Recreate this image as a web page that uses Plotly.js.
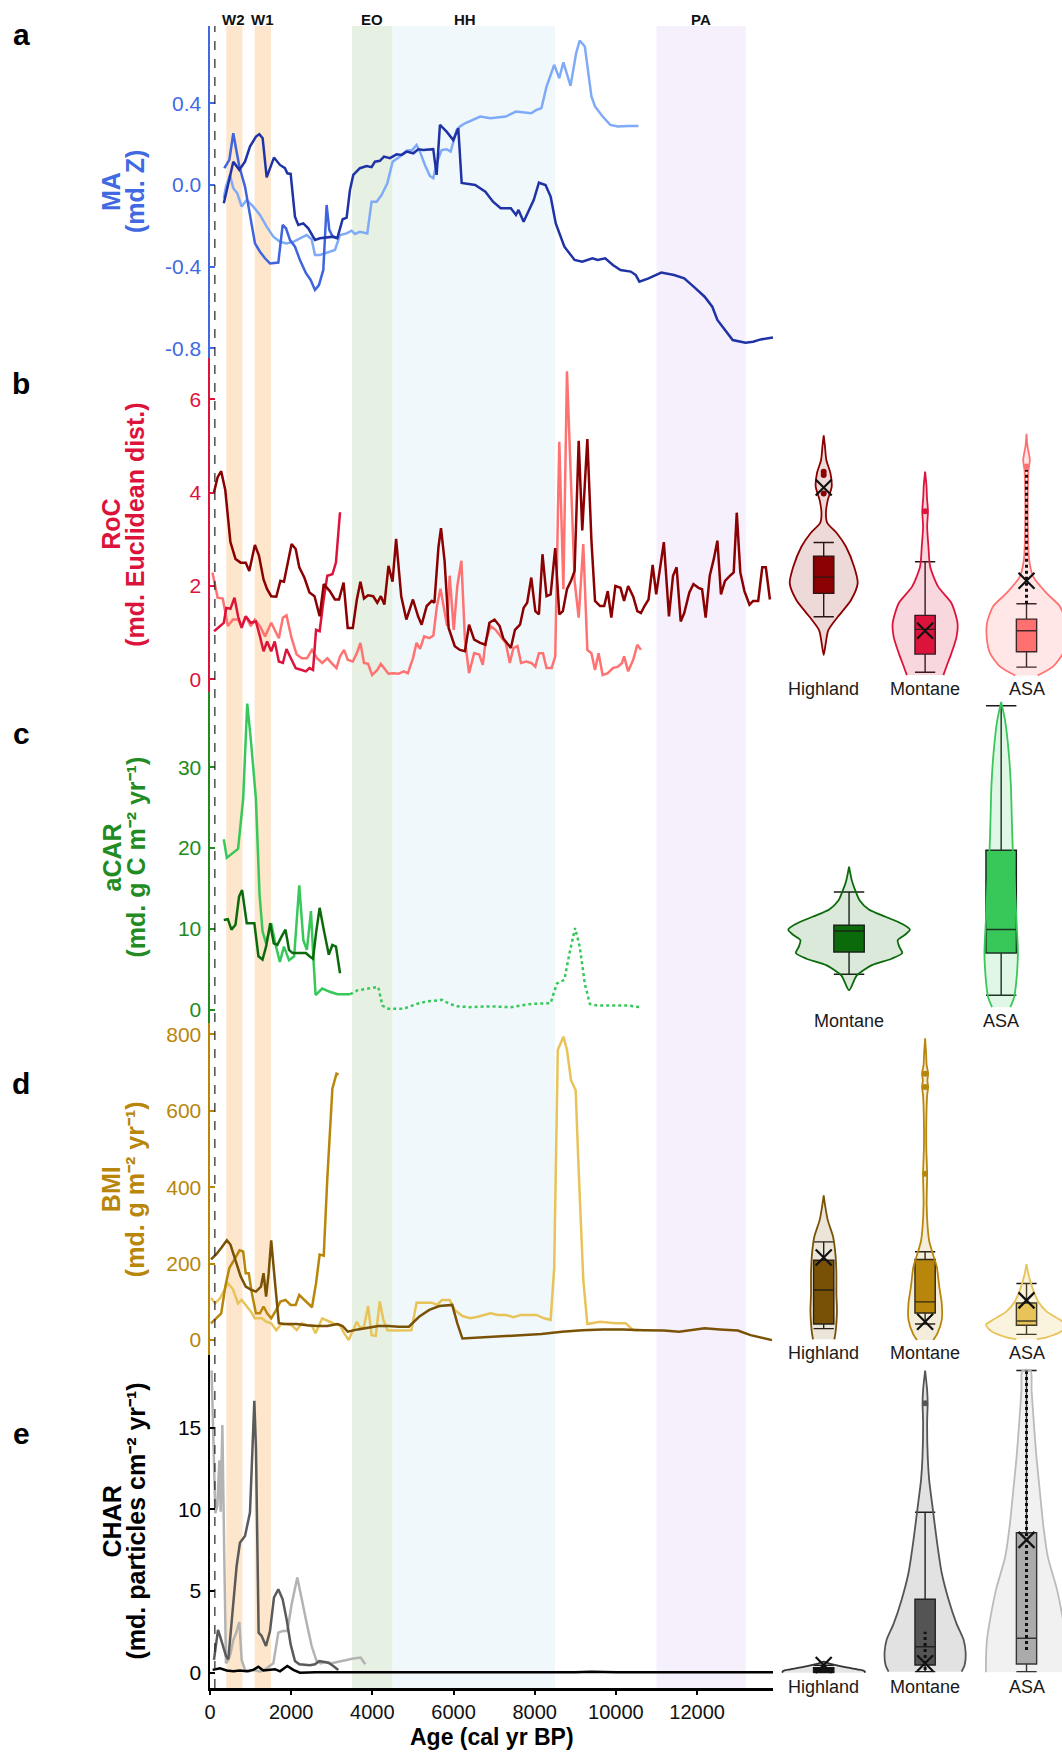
<!DOCTYPE html>
<html>
<head>
<meta charset="utf-8">
<script src="https://cdn.plot.ly/plotly-3.0.1.min.js"></script>
<style>
  html, body { margin: 0; padding: 0; background: #ffffff; }
  #chart { width: 1062px; height: 1756px; }
</style>
</head>
<body>
<div id="chart"></div>
<script>
// ---------------- time-series data (age in cal yr BP) ----------------
// a) MA
const maHighlandAge = [340,574,722,862,985,1133,1215,1297,1396,1576,1724,1847,1905,1987,2093,2175,2298,2421,2586,2709,3038,3136,3268,3366,3448,3530,3694,3858,3981,4064,4187,4285,4433,4597,4720,4844,5008,5131,5254,5500,5583,5665,5829,5993,6117,6200,6533,6784,6972,7161,7412,7538,7600,7726,7977,8103,8266,8392,8518,8731,8982,9171,9422,9548,9736,9925,10113,10364,10490,10578,10804,11118,11432,11683,11935,12186,12374,12500,12688,12877,13191,13380,13568,13870];
const maHighlandVal = [-0.09,0.114,0.074,0.114,0.188,0.237,0.248,0.229,0.037,0.134,0.098,0.082,0.057,0.054,-0.155,-0.196,-0.188,-0.212,-0.269,-0.261,-0.253,-0.261,-0.168,-0.16,-0.025,0.049,0.082,0.093,0.087,0.114,0.118,0.139,0.131,0.15,0.147,0.163,0.155,0.175,0.171,0.175,0.049,0.294,0.261,0.22,0.277,0.01,0.0,-0.033,-0.082,-0.114,-0.114,-0.147,-0.122,-0.18,-0.073,0.011,0.0,-0.057,-0.188,-0.302,-0.367,-0.376,-0.359,-0.367,-0.359,-0.392,-0.416,-0.424,-0.441,-0.473,-0.457,-0.429,-0.441,-0.457,-0.501,-0.547,-0.596,-0.661,-0.71,-0.759,-0.772,-0.767,-0.756,-0.746];
const maMontaneAge = [340,369,476,574,640,722,862,985,1108,1231,1355,1478,1683,1790,1872,1970,2093,2216,2364,2479,2586,2684,2791,2873,2939,3021,3119];
const maMontaneVal = [0.09,0.087,0.123,0.253,0.18,0.09,-0.008,-0.155,-0.286,-0.327,-0.359,-0.384,-0.38,-0.196,-0.212,-0.269,-0.302,-0.367,-0.432,-0.465,-0.514,-0.49,-0.416,-0.098,-0.22,-0.253,-0.261];
const maAsaAge = [340,394,492,574,673,780,903,1067,1231,1396,1560,1724,1888,2052,2216,2380,2504,2586,2709,2873,3079,3202,3366,3489,3571,3694,3875,3981,4105,4228,4368,4499,4679,4844,4983,5090,5172,5295,5418,5500,5583,5706,5829,5928,6076,6158,6281,6658,6910,7286,7538,7915,8040,8166,8291,8480,8605,8706,8882,9020,9108,9234,9397,9485,9673,9862,10050,10302,10553];
const maAsaVal = [-0.065,-0.008,0.049,-0.016,-0.041,-0.106,-0.074,-0.106,-0.147,-0.204,-0.253,-0.278,-0.286,-0.278,-0.261,-0.245,-0.266,-0.343,-0.343,-0.331,-0.318,-0.245,-0.237,-0.224,-0.24,-0.229,-0.237,-0.082,-0.082,-0.049,0.008,0.114,0.139,0.168,0.171,0.196,0.163,0.098,0.044,0.033,0.106,0.171,0.175,0.163,0.269,0.286,0.302,0.335,0.327,0.335,0.359,0.351,0.367,0.376,0.482,0.588,0.522,0.6,0.485,0.645,0.707,0.678,0.433,0.384,0.335,0.294,0.286,0.289,0.289];

// b) RoC
const rocHighlandAge = [100,188,276,377,503,628,754,880,967,1106,1206,1319,1407,1508,1633,1734,1822,1910,2010,2111,2199,2324,2450,2575,2701,2802,2952,3078,3178,3291,3392,3518,3618,3706,3794,3894,4020,4121,4209,4296,4397,4497,4585,4711,4837,5000,5126,5214,5339,5465,5528,5628,5691,5779,5879,6030,6156,6281,6382,6508,6658,6784,6884,7010,7136,7224,7349,7412,7513,7638,7726,7814,7915,8015,8103,8191,8291,8392,8505,8605,8693,8794,8894,8982,9083,9171,9296,9397,9485,9611,9711,9799,9887,9987,10113,10201,10302,10427,10528,10616,10704,10804,10905,10993,11181,11307,11407,11495,11596,11683,11809,11910,12035,12123,12211,12312,12412,12500,12588,12688,12814,12902,12977,13065,13166,13291,13380,13505,13606,13693,13794];
const rocHighlandVal = [4.01,4.33,4.46,4.05,2.94,2.58,2.5,2.5,2.32,2.88,2.65,2.14,1.93,1.78,1.77,2.11,2.09,2.5,2.9,2.79,2.4,2.18,1.86,1.78,1.35,2.04,1.89,1.71,1.71,2.07,1.1,1.1,1.71,2.09,1.73,1.8,1.78,1.64,1.78,1.6,2.43,2.09,3.01,1.78,1.28,1.71,1.35,1.17,1.57,1.68,1.64,2.83,3.24,2.54,1.1,0.71,0.63,0.6,1.17,0.85,0.78,0.74,1.21,1.28,1.14,0.88,0.74,0.67,1.06,1.17,1.53,1.64,2.18,1.46,1.39,2.68,1.78,1.82,2.81,1.39,1.46,1.93,2.11,2.32,5.11,3.19,5.15,2.97,1.68,1.57,1.57,1.89,1.32,2.0,1.96,1.68,2.0,1.77,1.46,1.42,1.57,1.71,2.45,1.82,2.94,1.35,2.22,2.4,1.24,1.42,1.86,2.04,1.96,1.93,1.32,2.22,2.58,2.97,1.82,2.11,2.22,2.29,3.57,2.29,1.89,1.6,1.68,1.68,2.4,2.4,1.71];
const rocMontaneAge = [100,251,339,402,503,603,691,779,880,1005,1131,1231,1319,1407,1508,1595,1696,1796,1884,2010,2111,2261,2362,2450,2538,2613,2701,2789,2889,3015,3103,3203];
const rocMontaneVal = [1.03,1.14,1.21,1.53,1.51,1.75,1.35,1.1,1.35,1.21,1.24,0.92,0.6,0.81,0.6,0.81,0.38,0.35,0.65,0.42,0.24,0.2,0.17,0.24,0.2,1.06,1.03,1.64,2.22,2.25,2.5,3.58];
const rocAsaAge = [60,188,314,440,565,691,779,880,1005,1106,1231,1357,1508,1696,1796,1884,2010,2136,2261,2387,2513,2638,2764,2889,2990,3115,3203,3304,3392,3518,3618,3706,3794,3894,3995,4121,4209,4296,4397,4523,4648,4774,4874,5000,5088,5176,5276,5402,5503,5591,5678,5754,5842,5905,6005,6093,6193,6281,6382,6508,6633,6721,6784,6910,7035,7161,7286,7387,7475,7575,7663,7789,7915,8015,8103,8203,8291,8417,8505,8605,8706,8794,8894,8982,9083,9196,9296,9397,9485,9573,9673,9799,9925,10050,10151,10201,10302,10427,10528,10616];
const rocAsaVal = [2.29,1.75,1.73,1.14,1.28,1.28,1.14,1.35,1.14,1.28,1.14,0.92,1.21,0.88,1.32,1.37,0.88,0.53,0.45,0.45,0.63,0.45,0.35,0.45,0.35,0.24,0.49,0.63,0.42,0.38,0.56,0.78,0.35,0.33,0.09,0.2,0.33,0.24,0.12,0.13,0.12,0.17,0.13,0.45,0.78,0.65,0.92,0.88,0.94,1.57,1.94,1.57,1.14,2.22,1.06,2.0,2.54,0.85,0.13,0.56,0.53,0.31,0.78,1.14,1.06,0.92,0.78,0.35,0.67,0.71,0.35,0.38,0.35,0.27,0.56,0.56,0.24,0.24,0.49,5.09,1.93,6.6,4.01,2.11,1.32,2.9,0.63,0.56,0.2,0.56,0.09,0.13,0.24,0.27,0.35,0.49,0.17,0.42,0.74,0.63];

// c) aCAR
const carMontaneAge = [339,440,528,628,716,791,905,1005,1093,1193,1294,1382,1483,1571,1658,1759,1859,1947,2035,2136,2261,2362,2450,2538,2613,2701,2802,2927,3015,3103,3203];
const carMontaneVal = [11.1,11.2,9.9,10.5,14.0,14.8,10.7,10.7,10.7,6.6,6.2,7.8,10.7,8.2,8.0,9.0,9.9,7.4,7.0,7.0,7.0,7.0,6.6,6.3,9.5,12.6,9.9,6.8,8.0,7.8,4.5];
const carAsaAge = [339,415,691,817,917,1005,1131,1219,1294,1382,1508,1608,1721,1822,1947,2073,2199,2299,2387,2487,2550,2601,2764,2952,3141,3455];
const carAsaVal = [21.1,18.8,19.9,26.1,37.9,33.5,26.1,14.4,9.7,8.2,10.7,8.2,5.9,7.8,6.1,6.6,15.4,8.6,7.4,12.2,6.1,1.8,2.6,2.2,1.9,1.9];
// gap-filled part of the ASA record (drawn dotted)
const carAsaGapAge = [3455,3643,3894,4146,4246,4397,4774,4899,5088,5339,5716,5905,6093,6407,6910,7412,7915,8392,8543,8731,8857,8995,9108,9234,9359,9548,9925,10302,10578];
const carAsaGapVal = [1.9,2.4,2.6,2.8,0.5,0.1,0.1,0.3,0.7,1.0,1.2,0.7,0.4,0.3,0.4,0.3,0.7,0.8,3.2,3.7,7.0,10.1,7.8,3.2,0.7,0.5,0.5,0.5,0.3];

// d) BMI
const bmiHighlandAge = [25,151,276,415,503,628,754,880,1005,1131,1256,1319,1382,1445,1508,1595,1696,1822,2136,2387,2638,2889,3141,3266,3392,3643,3894,4146,4397,4648,4899,5151,5402,5653,5967,6093,6218,6658,7161,7663,8166,8668,9171,9673,10176,10678,11181,11558,11809,12186,12563,13003,13317,13568,13844];
const bmiHighlandVal = [211,224,241,261,250,211,167,140,132,127,140,175,114,175,261,158,44,42,42,39,37,37,42,37,22,28,33,37,37,35,35,61,79,89,92,44,4,7,11,13,16,22,26,28,28,26,25,22,26,31,28,25,13,7,0];
const bmiMontaneAge = [25,151,276,377,477,603,729,817,880,955,1030,1131,1231,1319,1407,1508,1633,1734,1859,1985,2111,2199,2362,2513,2613,2701,2802,2889,3015,3116,3166];
const bmiMontaneVal = [44,57,70,140,189,211,235,232,175,175,123,70,70,88,70,57,79,101,105,92,92,118,101,86,149,224,221,421,658,697,695];
const bmiAsaAge = [25,126,251,352,440,565,691,779,880,1005,1106,1193,1281,1382,1508,1633,1759,1884,2010,2136,2261,2387,2513,2601,2764,2952,3078,3203,3304,3417,3518,3618,3706,3794,3894,3982,4083,4183,4271,4372,4648,4962,5088,5276,5465,5591,5716,5905,6030,6218,6407,6595,6784,6910,7098,7286,7475,7663,7852,8040,8229,8392,8480,8568,8706,8794,8894,9008,9083,9196,9296,9422,9611,9799,9987,10239,10427,10553];
const bmiAsaVal = [110,96,110,132,149,133,96,105,92,75,57,57,57,48,44,26,42,42,39,26,44,39,37,18,57,48,42,39,18,0,22,48,31,35,89,13,11,101,53,26,25,26,98,98,98,92,105,105,79,63,57,61,66,70,66,66,60,66,66,66,57,53,189,759,794,759,680,654,443,158,42,44,48,46,44,44,26,25];

// e) CHAR
const charHighlandAge = [66,246,410,574,738,903,1067,1190,1313,1478,1601,1724,1905,2052,2216,2600,3200,4000,5000,6000,7000,8000,9000,9400,10000,11000,12000,13000,13870];
const charHighlandVal = [0.17,0.27,0.13,0.08,0.13,0.08,0.17,0.36,0.13,0.17,0.21,0.08,0.41,0.17,0.0,0.02,0.03,0.02,0.03,0.02,0.04,0.02,0.03,0.06,0.02,0.03,0.02,0.03,0.02];
const charMontaneAge = [98,197,246,328,394,451,508,574,656,738,862,985,1092,1133,1198,1272,1379,1478,1576,1683,1790,1888,1987,2093,2200,2463,2586,2693,2914,3038,3161];
const charMontaneVal = [0.78,2.62,2.25,1.54,1.02,0.82,2.45,4.29,6.53,7.96,8.37,9.8,16.64,13.68,2.45,2.25,1.63,2.55,4.6,5.1,4.49,3.26,1.73,0.71,0.51,0.45,0.51,0.71,0.61,0.41,0.16];
const charAsaAge = [40,131,180,230,263,304,353,394,451,508,574,640,722,780,862,944,1067,1231,1396,1560,1683,1790,1905,2011,2151,2257,2380,2504,2627,2725,2832,2996,3202,3366,3530,3711,3826];
const charAsaVal = [18.5,9.76,10.2,13.0,9.86,15.17,6.9,0.57,0.78,1.18,2.0,2.4,3.1,0.78,0.17,0.06,0.17,0.06,0.27,0.57,2.45,2.55,2.55,4.19,5.82,4.49,3.06,1.63,0.71,0.57,0.65,0.57,0.71,0.78,0.86,0.92,0.51];

// ---------------- climate / cultural periods ----------------
const bandNames = ['W2', 'W1', 'EO', 'HH', 'PA'];
const bandStart = [400, 1100, 3500, 4500, 11000];
const bandEnd = [800, 1500, 4500, 8500, 13200];
const bandLabelAge = [580, 1290, 3980, 6280, 12100];

// ---------------- distributions (violin density half-widths, box statistics) ----------------
const regionCats = ['Highland', 'Montane', 'ASA'];
const carCats = ['Montane', 'ASA'];

const rocHighlandVY = [0.52,0.77,1.05,1.34,1.7,2.06,2.41,2.84,3.13,3.35,3.56,3.84,4.13,4.42,4.7,5.0,5.23];
const rocHighlandVW = [0,0.02,0.045,0.14,0.27,0.335,0.30,0.22,0.13,0.035,0.022,0.04,0.079,0.066,0.026,0.012,0];
const rocMontaneVY = [0.09,0.27,0.56,0.91,1.2,1.63,1.98,2.41,2.84,3.27,3.6,3.9,4.13,4.45];
const rocMontaneVW = [0.18,0.21,0.26,0.31,0.32,0.26,0.13,0.05,0.033,0.02,0.028,0.018,0.014,0];
const rocAsaVY = [0.08,0.27,0.56,0.85,1.2,1.56,1.84,2.2,2.56,3.27,3.99,4.49,4.7,4.99,5.26];
const rocAsaVW = [0.11,0.26,0.36,0.39,0.39,0.33,0.2,0.066,0.026,0.013,0.013,0.02,0.033,0.01,0];
const rocQ1 = [1.84, 0.54, 0.59];
const rocMedian = [2.19, 1.07, 1.04];
const rocQ3 = [2.64, 1.37, 1.29];
const rocLow = [1.34, 0.15, 0.26];
const rocHigh = [2.93, 2.52, 1.62];
const rocMean = [4.11, 1.04, 2.11];
const rocOutliers = [[4.45, 4.38, 3.98], [3.6], [4.56]];
const rocSpread = [null, null, [1.62, 4.49]];

const carMontaneVY = [2.4,4.2,5.5,6.3,7.0,7.8,8.6,9.3,9.9,10.6,11.5,12.4,13.5,14.8,16.0,17.7];
const carMontaneVW = [0,0.05,0.15,0.28,0.35,0.33,0.32,0.37,0.40,0.35,0.24,0.13,0.07,0.04,0.018,0];
const carAsaVY = [0.3,1.5,3.0,7.0,11.2,15.3,19.5,23.6,27.7,31.8,35.9,38.1];
const carAsaVW = [0.06,0.085,0.097,0.11,0.1,0.09,0.077,0.07,0.064,0.05,0.025,0];
const carQ1 = [7.14, 7.0];
const carMedian = [9.74, 9.91];
const carQ3 = [10.45, 19.74];
const carLow = [4.37, 1.77];
const carHigh = [14.57, 37.63];

const bmiHighlandVY = [2,17,43,78,122,175,227,271,314,349,379];
const bmiHighlandVW = [0.105,0.115,0.125,0.131,0.125,0.125,0.115,0.092,0.04,0.016,0];
const bmiMontaneVY = [0,17,52,96,139,192,231,260,296,357,435,500,575,640,662,680,697,720,749,790];
const bmiMontaneVW = [0.08,0.12,0.164,0.164,0.14,0.115,0.07,0.04,0.025,0.015,0.02,0.012,0.012,0.02,0.03,0.022,0.03,0.015,0.01,0];
const bmiAsaVY = [2,7,23,40,53,75,101,136,171,199];
const bmiAsaVW = [0.1,0.197,0.345,0.40,0.33,0.197,0.115,0.059,0.02,0];
const bmiQ1 = [42, 71, 39];
const bmiMedian = [131, 100, 50];
const bmiQ3 = [209, 211, 97];
const bmiLow = [30, 42, 15];
const bmiHigh = [257, 231, 148];
const bmiMean = [216, 48, 104];
const bmiOutliers = [[], [697, 662, 435], []];

const charHighlandVY = [0,0.1,0.2,0.35,0.5,0.68];
const charHighlandVW = [0.41,0.40,0.33,0.2,0.09,0];
const charMontaneVY = [0.06,0.47,1.2,2.0,3.0,4.5,6.1,8.1,10.2,11.8,13.2,15.3,16.5,17.3,18.5];
const charMontaneVW = [0.36,0.39,0.40,0.38,0.31,0.23,0.164,0.115,0.072,0.04,0.026,0.02,0.025,0.02,0];
const charAsaVY = [0.02,0.77,2.0,3.4,5.1,7.1,9.1,11.2,13.2,15.3,17.3,18.5];
const charAsaVW = [0.40,0.40,0.39,0.355,0.30,0.21,0.164,0.13,0.098,0.072,0.05,0.04];
const charQ1 = [0.02, 0.47, 0.53];
const charMedian = [0.16, 1.59, 2.11];
const charQ3 = [0.31, 4.49, 8.57];
const charLow = [0, 0.06, 0.06];
const charHigh = [0.45, 9.82, 18.5];
const charMean = [0.47, 0.57, 8.13];
const charOutliers = [[], [16.5], []];
const charSpread = [null, [0.16, 2.5], [1.39, 18.44]];

// ---------------- page geometry ----------------
const W = 1062, H = 1756;
const fx = px => px / W;
const fy = px => 1 - px / H;
const PLOT_LEFT = 210, PLOT_RIGHT = 773;
const AGE_MAX = 13870;
const BAND_TOP = 26, BAND_BOTTOM = 1688;
const FONT = '"Liberation Sans", Arial, Helvetica, sans-serif';

const panels = [
  {top: 26,     bottom: 358,    range: [-0.847, 0.778], color: '#4169E1', tickvals: [-0.8, -0.4, 0, 0.4], ticktext: ['-0.8', '-0.4', '0.0', '0.4'], t1: 'MA',   t2: '(md. Z)',                     letter: 'a', letterY: 34},
  {top: 358,    bottom: 691.7,  range: [-0.266, 6.885], color: '#DC143C', tickvals: [0, 2, 4, 6],          ticktext: ['0', '2', '4', '6'],          t1: 'RoC',  t2: '(md. Euclidean dist.)',       letter: 'b', letterY: 383},
  {top: 691.7,  bottom: 1023.3, range: [-1.7, 39.37],   color: '#228B22', tickvals: [0, 10, 20, 30],       ticktext: ['0', '10', '20', '30'],       t1: 'aCAR', t2: '(md. g C m\u207B\u00B2 yr\u207B\u00B9)', letter: 'c', letterY: 733},
  {top: 1023.3, bottom: 1355,   range: [-39, 829],      color: '#B8860B', tickvals: [0, 200, 400, 600, 800], ticktext: ['0', '200', '400', '600', '800'], t1: 'BMI', t2: '(md. g m\u207B\u00B2 yr\u207B\u00B9)', letter: 'd', letterY: 1083},
  {top: 1355,   bottom: 1688,   range: [-0.94, 19.45],  color: '#000000', tickvals: [0, 5, 10, 15],        ticktext: ['0', '5', '10', '15'],        t1: 'CHAR', t2: '(md. particles cm\u207B\u00B2 yr\u207B\u00B9)', letter: 'e', letterY: 1433}
];

const traces = [];
const yName = i => (i === 0 ? 'y' : 'y' + (i + 1));

function series(x, y, color, panelIdx, dash) {
  traces.push({
    type: 'scatter', mode: 'lines', x: x, y: y,
    xaxis: 'x', yaxis: yName(panelIdx),
    line: {color: color, width: 2.5, dash: dash || 'solid'},
    hoverinfo: 'skip', showlegend: false
  });
}

series(maAsaAge, maAsaVal, '#7FAAF7', 0);
series(maMontaneAge, maMontaneVal, '#3E64DE', 0);
series(maHighlandAge, maHighlandVal, '#1F33A6', 0);

series(rocAsaAge, rocAsaVal, '#FF7272', 1);
series(rocMontaneAge, rocMontaneVal, '#DC143C', 1);
series(rocHighlandAge, rocHighlandVal, '#8B0000', 1);

series(carAsaAge, carAsaVal, '#38C85A', 2);
series(carAsaGapAge, carAsaGapVal, '#38C85A', 2, 'dot');
series(carMontaneAge, carMontaneVal, '#0B6B0B', 2);

series(bmiAsaAge, bmiAsaVal, '#E8C35A', 3);
series(bmiMontaneAge, bmiMontaneVal, '#B8860B', 3);
series(bmiHighlandAge, bmiHighlandVal, '#7A5206', 3);

series(charAsaAge, charAsaVal, '#B3B3B3', 4);
series(charMontaneAge, charMontaneVal, '#5A5A5A', 4);
series(charHighlandAge, charHighlandVal, '#000000', 4);

// ---------------- violins + boxes on the right ----------------
function violin(center, levels, widths, line, fill, xa, ya) {
  const xs = [], ys = [];
  for (let i = 0; i < levels.length; i++) { xs.push(center + widths[i]); ys.push(levels[i]); }
  for (let i = levels.length - 1; i >= 0; i--) { xs.push(center - widths[i]); ys.push(levels[i]); }
  traces.push({
    type: 'scatter', mode: 'lines', x: xs, y: ys, fill: 'toself', fillcolor: fill,
    line: {color: line, width: 1.8, shape: 'spline', smoothing: 0.7},
    xaxis: xa, yaxis: ya, hoverinfo: 'skip', showlegend: false
  });
}
function box(center, q1, med, q3, lo, hi, fill, xa, ya) {
  traces.push({
    type: 'box', orientation: 'v', x: [center], q1: [q1], median: [med], q3: [q3],
    lowerfence: [lo], upperfence: [hi], width: 0.2, whiskerwidth: 1,
    fillcolor: fill, line: {color: '#1a1a1a', width: 1.4}, boxpoints: false,
    xaxis: xa, yaxis: ya, hoverinfo: 'skip', showlegend: false
  });
}
function points(center, vals, color, xa, ya) {
  if (!vals.length) return;
  traces.push({
    type: 'scatter', mode: 'markers', x: vals.map(() => center), y: vals,
    marker: {color: color, size: 6}, xaxis: xa, yaxis: ya, hoverinfo: 'skip', showlegend: false
  });
}
function spread(center, seg, xa, ya) {
  if (!seg) return;
  traces.push({
    type: 'scatter', mode: 'lines', x: [center, center], y: seg,
    line: {color: '#111111', width: 3, dash: 'dot'}, xaxis: xa, yaxis: ya, hoverinfo: 'skip', showlegend: false
  });
}
function meanMark(center, v, xa, ya) {
  traces.push({
    type: 'scatter', mode: 'markers', x: [center], y: [v],
    marker: {symbol: 'x-thin-open', size: 16, color: '#111111', line: {color: '#111111', width: 2.2}},
    xaxis: xa, yaxis: ya, hoverinfo: 'skip', showlegend: false
  });
}

// RoC (x2 / y6)
const rocLine = ['#8B0000', '#DC143C', '#FF7272'];
const rocFill = ['rgba(139,0,0,0.15)', 'rgba(220,20,60,0.17)', 'rgba(255,114,114,0.17)'];
[[rocHighlandVY, rocHighlandVW], [rocMontaneVY, rocMontaneVW], [rocAsaVY, rocAsaVW]].forEach((v, i) => {
  violin(i, v[0], v[1], rocLine[i], rocFill[i], 'x2', 'y6');
  points(i, rocOutliers[i], rocLine[i], 'x2', 'y6');
  box(i, rocQ1[i], rocMedian[i], rocQ3[i], rocLow[i], rocHigh[i], rocLine[i], 'x2', 'y6');
  spread(i, rocSpread[i], 'x2', 'y6');
  meanMark(i, rocMean[i], 'x2', 'y6');
});

// aCAR (x3 / y7)
const carLine = ['#0B6B0B', '#38C85A'];
const carFill = ['rgba(11,107,11,0.15)', 'rgba(56,200,90,0.15)'];
[[carMontaneVY, carMontaneVW], [carAsaVY, carAsaVW]].forEach((v, i) => {
  violin(i, v[0], v[1], carLine[i], carFill[i], 'x3', 'y7');
  box(i, carQ1[i], carMedian[i], carQ3[i], carLow[i], carHigh[i], carLine[i], 'x3', 'y7');
});

// BMI (x4 / y8)
const bmiLine = ['#7A5206', '#B8860B', '#E8C35A'];
const bmiFill = ['rgba(122,82,6,0.15)', 'rgba(184,134,11,0.15)', 'rgba(232,195,90,0.2)'];
[[bmiHighlandVY, bmiHighlandVW], [bmiMontaneVY, bmiMontaneVW], [bmiAsaVY, bmiAsaVW]].forEach((v, i) => {
  violin(i, v[0], v[1], bmiLine[i], bmiFill[i], 'x4', 'y8');
  points(i, bmiOutliers[i], bmiLine[i], 'x4', 'y8');
  box(i, bmiQ1[i], bmiMedian[i], bmiQ3[i], bmiLow[i], bmiHigh[i], bmiLine[i], 'x4', 'y8');
  meanMark(i, bmiMean[i], 'x4', 'y8');
});

// CHAR (x5 / y9)
const charLine = ['#333333', '#555555', '#BBBBBB'];
const charFill = ['rgba(0,0,0,0.1)', 'rgba(85,85,85,0.17)', 'rgba(180,180,180,0.18)'];
const charBox = ['#111111', '#555555', '#AAAAAA'];
[[charHighlandVY, charHighlandVW], [charMontaneVY, charMontaneVW], [charAsaVY, charAsaVW]].forEach((v, i) => {
  violin(i, v[0], v[1], charLine[i], charFill[i], 'x5', 'y9');
  points(i, charOutliers[i], charLine[i], 'x5', 'y9');
  box(i, charQ1[i], charMedian[i], charQ3[i], charLow[i], charHigh[i], charBox[i], 'x5', 'y9');
  spread(i, charSpread[i], 'x5', 'y9');
  meanMark(i, charMean[i], 'x5', 'y9');
});

// ---------------- layout ----------------
const layout = {
  width: W, height: H,
  margin: {l: 0, r: 0, t: 0, b: 0, pad: 0},
  paper_bgcolor: '#ffffff', plot_bgcolor: 'rgba(0,0,0,0)',
  showlegend: false, hovermode: false, boxmode: 'overlay',
  font: {family: FONT, color: '#111111'},
  shapes: [], annotations: []
};

layout.xaxis = {
  domain: [fx(PLOT_LEFT), fx(PLOT_RIGHT)], range: [0, AGE_MAX], anchor: 'y5',
  showline: true, linecolor: '#000000', linewidth: 2.5, mirror: false,
  ticks: 'outside', ticklen: 4, tickwidth: 2, tickcolor: '#000000',
  tickvals: [0, 2000, 4000, 6000, 8000, 10000, 12000],
  ticktext: ['0', '2000', '4000', '6000', '8000', '10000', '12000'],
  tickfont: {family: FONT, size: 20, color: '#111111'},
  ticklabelstandoff: 0,
  showgrid: false, zeroline: false
};

panels.forEach((p, i) => {
  const key = i === 0 ? 'yaxis' : 'yaxis' + (i + 1);
  layout[key] = {
    domain: [fy(p.bottom), fy(p.top)], range: p.range, anchor: 'x',
    showline: true, linecolor: p.color, linewidth: 2.5,
    ticks: 'inside', ticklen: 5, tickwidth: 2, tickcolor: p.color,
    tickvals: p.tickvals, ticktext: p.ticktext,
    tickfont: {family: FONT, size: 21, color: p.color},
    ticklabelstandoff: 2,
    showgrid: false, zeroline: false
  };
  const cy = fy((p.top + p.bottom) / 2);
  layout.annotations.push({
    xref: 'paper', yref: 'paper', x: fx(111), y: cy, xanchor: 'center', yanchor: 'middle',
    text: p.t1, textangle: -90, showarrow: false,
    font: {family: FONT, size: 25, weight: 'bold', color: p.color}
  });
  layout.annotations.push({
    xref: 'paper', yref: 'paper', x: fx(135), y: cy, xanchor: 'center', yanchor: 'middle',
    text: p.t2, textangle: -90, showarrow: false,
    font: {family: FONT, size: 25, weight: 'bold', color: p.color}
  });
  layout.annotations.push({
    xref: 'paper', yref: 'paper', x: fx(21), y: fy(p.letterY), xanchor: 'center', yanchor: 'middle',
    text: p.letter, showarrow: false,
    font: {family: FONT, size: 30, weight: 'bold', color: '#000000'}
  });
});

// violin subplots (same vertical scales as the time-series panels)
const violinAxes = [
  {x: 'xaxis2', y: 'yaxis6', xa: 'x2', ya: 'y6', panel: 1, range: [-0.5, 2.35], cats: regionCats, labelY: 689},
  {x: 'xaxis3', y: 'yaxis7', xa: 'x3', ya: 'y7', panel: 2, range: [-0.5, 1.4], cats: carCats, labelY: 1021},
  {x: 'xaxis4', y: 'yaxis8', xa: 'x4', ya: 'y8', panel: 3, range: [-0.5, 2.35], cats: regionCats, labelY: 1353},
  {x: 'xaxis5', y: 'yaxis9', xa: 'x5', ya: 'y9', panel: 4, range: [-0.5, 2.35], cats: regionCats, labelY: 1687}
];
violinAxes.forEach(v => {
  const p = panels[v.panel];
  layout[v.x] = {domain: [fx(PLOT_RIGHT), 1], range: v.range, anchor: v.ya, visible: false, showgrid: false, zeroline: false};
  layout[v.y] = {domain: [fy(p.bottom), fy(p.top)], range: p.range, anchor: v.xa, visible: false, showgrid: false, zeroline: false};
  v.cats.forEach((c, i) => {
    layout.annotations.push({
      xref: v.xa, yref: 'paper', x: i, y: fy(v.labelY), xanchor: 'center', yanchor: 'middle',
      text: c, showarrow: false, font: {family: FONT, size: 18, color: '#1a1a1a'}
    });
  });
});

// period bands and their labels
const bandColors = ['#FDE6CB', '#FDE6CB', '#E6F1E3', '#F0F8FC', '#F6F0FD'];
bandNames.forEach((name, i) => {
  layout.shapes.push({
    type: 'rect', layer: 'below', xref: 'x', yref: 'paper',
    x0: bandStart[i], x1: bandEnd[i], y0: fy(BAND_BOTTOM), y1: fy(BAND_TOP),
    fillcolor: bandColors[i], line: {width: 0}
  });
  layout.annotations.push({
    xref: 'x', yref: 'paper', x: bandLabelAge[i], y: fy(19), xanchor: 'center', yanchor: 'middle',
    text: name, showarrow: false, font: {family: FONT, size: 15, weight: 'bold', color: '#111111'}
  });
});

// reference line for the present-day sampling horizon
layout.shapes.push({
  type: 'line', layer: 'above', xref: 'x', yref: 'paper',
  x0: 120, x1: 120, y0: fy(BAND_BOTTOM), y1: fy(BAND_TOP),
  line: {color: '#222222', width: 1.2, dash: 'dash'}
});

// x-axis title
layout.annotations.push({
  xref: 'paper', yref: 'paper', x: fx((PLOT_LEFT + PLOT_RIGHT) / 2), y: fy(1737), xanchor: 'center', yanchor: 'middle',
  text: 'Age (cal yr BP)', showarrow: false, font: {family: FONT, size: 23, weight: 'bold', color: '#000000'}
});

Plotly.newPlot('chart', traces, layout, {staticPlot: true, displayModeBar: false});
</script>
</body>
</html>
